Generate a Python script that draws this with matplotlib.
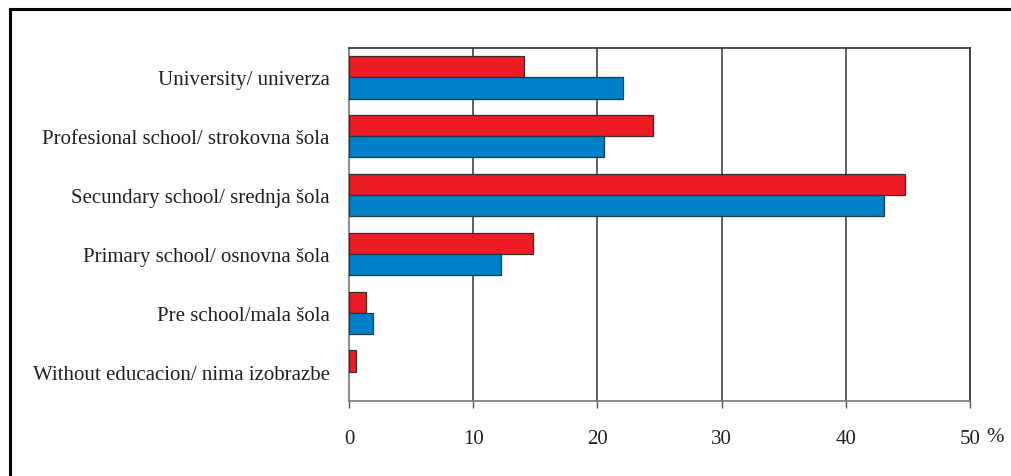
import numpy as np
import matplotlib
matplotlib.use('Agg')
import matplotlib.pyplot as plt
from matplotlib.lines import Line2D

categories = ['University/ univerza',
              'Profesional school/ strokovna šola',
              'Secundary school/ srednja šola',
              'Primary school/ osnovna šola',
              'Pre school/mala šola',
              'Without educacion/ nima izobrazbe']
red_values = [14.1, 24.5, 44.8, 14.8, 1.4, 0.6]
blue_values = [22.1, 20.5, 43.1, 12.2, 1.9, 0.0]
x_ticks = [0, 10, 20, 30, 40, 50]

plt.rcParams['font.family'] = ['Liberation Serif', 'DejaVu Serif']

fig = plt.figure(figsize=(10.11, 4.77), dpi=100)
ax = fig.add_axes([0.3452, 0.1572, 0.6142, 0.7401])

y = np.arange(len(categories))
h = 0.36
ax.barh(y - h / 2, red_values, height=h, color='#ED1C24', edgecolor='#3a2a2a', linewidth=0.9, zorder=3)
ax.barh(y + h / 2, [v if v > 0 else np.nan for v in blue_values], height=h,
        color='#0080C8', edgecolor='#23384a', linewidth=0.9, zorder=3)

ax.set_xlim(0, 50)
ax.set_ylim(len(categories) - 0.5, -0.5)
ax.set_yticks(y)
ax.set_yticklabels(categories, fontsize=15, color='#231f20')
ax.set_xticks(x_ticks)
ax.set_xticklabels([str(t) for t in x_ticks], fontsize=15, color='#231f20')
ax.tick_params(axis='y', length=0, pad=14)
ax.tick_params(axis='x', length=5, width=1, color='#555555', pad=15)

for t in x_ticks[1:-1]:
    ax.axvline(t, color='#444444', linewidth=1.2, zorder=1)

ax.spines['left'].set_color('#777777')
ax.spines['bottom'].set_color('#777777')
ax.spines['top'].set_color('#333333')
ax.spines['right'].set_color('#222222')
for s in ax.spines.values():
    s.set_linewidth(1.2)

fig.text(995 / 1011, 1 - 438 / 477, '%', fontsize=15, color='#231f20', ha='center', va='center')

# outer frame (top and left edges)
fig.add_artist(Line2D([9.5 / 1011, 1.0], [1 - 9.5 / 477, 1 - 9.5 / 477], color='black', linewidth=2.2, transform=fig.transFigure))
fig.add_artist(Line2D([9.5 / 1011, 9.5 / 1011], [0, 1 - 9.5 / 477], color='black', linewidth=2.2, transform=fig.transFigure))

fig.savefig('out.png', dpi=100)
